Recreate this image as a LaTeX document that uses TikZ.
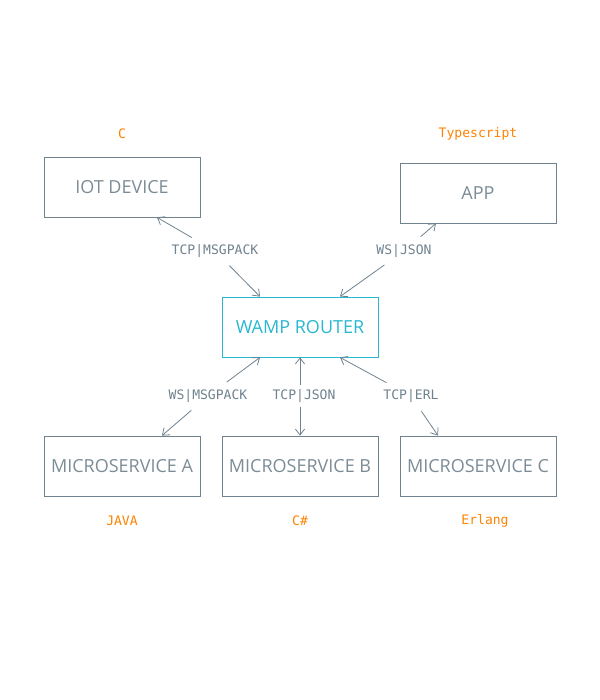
\documentclass[tikz,border=0pt]{standalone}
\usepackage{fontspec}
\setmainfont{Open Sans}
\setmonofont{DejaVu Sans Mono}
\usepackage{tikz}
\usetikzlibrary{calc,arrows.meta}
\definecolor{WAMPLine}{RGB}{112,130,142}
\definecolor{WAMPText}{RGB}{124,140,150}
\definecolor{WAMPRouter}{RGB}{40,184,208}
\definecolor{WAMPLang}{RGB}{255,130,0}

\begin{document}
\begin{tikzpicture}[x=0.75pt, y=-0.75pt,
    box/.style={draw=WAMPLine, line width=0.6pt, minimum width=117pt, minimum height=45pt, inner sep=0pt, text=WAMPText, font=\fontsize{13.5}{16}\selectfont},
    lang/.style={text=WAMPLang, font=\ttfamily\fontsize{9.8}{12}\selectfont},
    proto/.style={text=WAMPLine, font=\ttfamily\fontsize{9.8}{12}\selectfont, inner sep=3pt},
    link/.style={draw=WAMPLine, line width=0.6pt, shorten <=4pt, -{Straight Barb[length=4.5pt, width=7pt]}}]
    % Page
    \useasboundingbox (0,0) rectangle (600,700);

    % Clients
    \node[box] (iot) at (122,187) {IOT DEVICE};
    \node[box] (app) at (478,193) {APP};
    \node[lang] (lang-iot) at (122,134) {C};
    \node[lang] (lang-app) at (478,134) {Typescript};

    % Router
    \node[box, draw=WAMPRouter, text=WAMPRouter] (router) at (300,327) {WAMP ROUTER};

    % Microservices
    \node[box] (ms-a) at (122,466) {MICROSERVICE A};
    \node[box] (ms-b) at (300,466) {MICROSERVICE B};
    \node[box] (ms-c) at (478,466) {MICROSERVICE C};
    \node[lang] (lang-a) at (122,521) {JAVA};
    \node[lang] (lang-b) at (300,521) {C\#};
    \node[lang] (lang-c) at (485,521) {Erlang};

    % Transports
    \node[proto] (tr-iot) at (215,251) {TCP|MSGPACK};
    \node[proto] (tr-app) at (404,251) {WS|JSON};
    \node[proto] (tr-a) at (208,396) {WS|MSGPACK};
    \node[proto] (tr-b) at (304,396) {TCP|JSON};
    \node[proto] (tr-c) at (411,396) {TCP|ERL};

    \draw[link] (tr-iot) -- ($(iot.south)+(35,0)$);
    \draw[link] (tr-iot) -- ($(router.north)+(-40,0)$);
    \draw[link] (tr-app) -- ($(app.south)+(-42,0)$);
    \draw[link] (tr-app) -- ($(router.north)+(40,0)$);
    \draw[link] (tr-a) -- ($(router.south)+(-40,0)$);
    \draw[link] (tr-a) -- ($(ms-a.north)+(40,0)$);
    \draw[link, shorten <=0pt] (tr-b.north -| router.south) -- (router.south);
    \draw[link, shorten <=0pt] (tr-b.south -| ms-b.north) -- (ms-b.north);
    \draw[link] (tr-c) -- ($(router.south)+(40,0)$);
    \draw[link] (tr-c) -- ($(ms-c.north)+(-40,0)$);
\end{tikzpicture}
\end{document}
